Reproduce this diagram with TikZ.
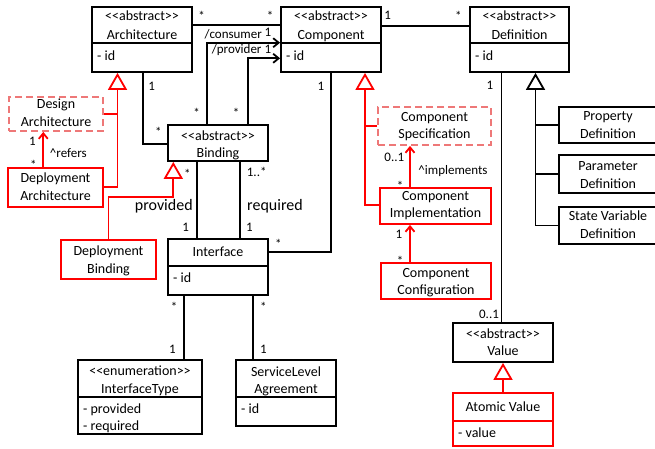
\documentclass[tikz,border=0pt]{standalone}
\usepackage{fontspec}
\setmainfont{Carlito}
\usetikzlibrary{arrows.meta,calc}

\definecolor{umlred}{RGB}{255,0,0}
\definecolor{draftred}{RGB}{238,120,120}

\tikzset{
  cls/.style={draw, line width=1.8pt, inner sep=0pt},
  redcls/.style={cls, draw=umlred},
  draftcls/.style={cls, draw=draftred, dash pattern=on 7pt off 4pt},
  divider/.style={line width=1.8pt},
  txt/.style={font=\fontsize{14}{17.5}\selectfont, inner sep=0pt, anchor=base},
  attr/.style={txt, anchor=base west},
  mult/.style={font=\fontsize{13}{16}\selectfont, inner sep=0pt, anchor=base},
  role/.style={font=\fontsize{16}{19}\selectfont, inner sep=0pt, anchor=base},
  assoc/.style={line width=1.8pt},
  gen/.style={line width=1.8pt, -{Triangle[open,length=17pt,width=19pt]}},
  nav/.style={line width=1.8pt, -{Straight Barb[length=5.5pt,width=9pt]}},
}

% class box from corner (x1,y1) to corner (x2,y2)
\newcommand\umlbox[6]{%
  \node[#2, minimum width={(#5-#3)*1pt}, minimum height={(#6-#4)*1pt}]
    (#1) at ({(#3+#5)/2},{(#4+#6)/2}) {};}
% one line of text on its baseline
\newcommand\tline[4]{\node[txt] (#1) at (#2,#3) {#4};}
\newcommand\aline[4]{\node[attr] (#1) at (#2,#3) {#4};}
\newcommand\stereo[1]{{<}{<}#1{>}{>}}

\begin{document}
\begin{tikzpicture}[x=1pt,y=-1pt]
\fill[white] (0,0) rectangle (655,448);
\useasboundingbox (0,0) rectangle (655,448);

% ---------- classes ----------
\umlbox{arch}{cls}{92}{7}{192}{72}
\umlbox{comp}{cls}{281}{7}{381}{72}
\umlbox{defn}{cls}{470}{7}{569}{72}
\umlbox{desarch}{draftcls}{9}{97}{103}{131}
\umlbox{deparch}{redcls}{8}{168}{103}{207}
\umlbox{bind}{cls}{168}{125}{268}{161}
\umlbox{depbind}{redcls}{61}{240}{156}{279}
\umlbox{iface}{cls}{168}{239}{268}{295}
\umlbox{itype}{cls}{78}{360}{202}{434}
\umlbox{sla}{cls}{236}{360}{336}{426}
\umlbox{cspec}{draftcls}{378}{107}{491}{145}
\umlbox{cimpl}{redcls}{380}{188}{491}{224}
\umlbox{cconf}{redcls}{381}{263}{491}{299}
\umlbox{propdef}{cls}{559}{107}{657}{143}
\umlbox{pardef}{cls}{559}{155}{657}{193}
\umlbox{svdef}{cls}{559}{207}{657}{244}
\umlbox{val}{cls}{453}{323}{553}{362}
\umlbox{aval}{redcls}{453}{393}{553}{446}

% compartments
\draw[divider] (arch.west |- 0,43) -- (arch.east |- 0,43);
\draw[divider] (comp.west |- 0,43) -- (comp.east |- 0,43);
\draw[divider] (defn.west |- 0,43) -- (defn.east |- 0,43);
\draw[divider] (iface.west |- 0,266) -- (iface.east |- 0,266);
\draw[divider] (itype.west |- 0,397) -- (itype.east |- 0,397);
\draw[divider] (sla.west |- 0,397) -- (sla.east |- 0,397);
\draw[divider,umlred] (aval.west |- 0,421) -- (aval.east |- 0,421);

% ---------- texts ----------
\tline{arch1}{142}{20.5}{\stereo{abstract}}
\tline{arch2}{142}{39}{Architecture}
\aline{arch3}{97}{60}{- id}
\tline{comp1}{331}{20.5}{\stereo{abstract}}
\tline{comp2}{331}{39}{Component}
\aline{comp3}{286}{60}{- id}
\tline{defn1}{519.5}{20.5}{\stereo{abstract}}
\tline{defn2}{519.5}{39}{Definition}
\aline{defn3}{475}{60}{- id}
\tline{desarch1}{56}{108.5}{Design}
\tline{desarch2}{56}{126}{Architecture}
\tline{deparch1}{55.5}{182.5}{Deployment}
\tline{deparch2}{55.5}{200.5}{Architecture}
\tline{bind1}{218}{140}{\stereo{abstract}}
\tline{bind2}{218}{157.5}{Binding}
\tline{depbind1}{108.5}{255.5}{Deployment}
\tline{depbind2}{108.5}{273}{Binding}
\tline{iface1}{218}{256.5}{Interface}
\aline{iface2}{173}{282}{- id}
\tline{itype1}{140}{375.5}{\stereo{enumeration}}
\tline{itype2}{140}{393}{InterfaceType}
\aline{itype3}{83}{413}{- provided}
\aline{itype4}{83}{430.5}{- required}
\tline{sla1}{286}{376.5}{ServiceLevel}
\tline{sla2}{286}{393}{Agreement}
\aline{sla3}{241}{413}{- id}
\tline{cspec1}{434.5}{121.5}{Component}
\tline{cspec2}{434.5}{138.5}{Specification}
\tline{cimpl1}{435.5}{200.5}{Component}
\tline{cimpl2}{435.5}{217.5}{Implementation}
\tline{cconf1}{436}{277.5}{Component}
\tline{cconf2}{436}{294.5}{Configuration}
\tline{propdef1}{608}{120.5}{Property}
\tline{propdef2}{608}{138.5}{Definition}
\tline{pardef1}{608}{170.5}{Parameter}
\tline{pardef2}{608}{188}{Definition}
\tline{svdef1}{608}{220}{State Variable}
\tline{svdef2}{608}{238}{Definition}
\tline{val1}{503}{338.5}{\stereo{abstract}}
\tline{val2}{503}{355.5}{Value}
\tline{aval1}{503}{411}{Atomic Value}
\aline{aval2}{458}{437}{- value}

% ---------- associations ----------
\draw[assoc] (arch.east |- 0,25) -- (comp.west |- 0,25);
\draw[assoc] (comp.east |- 0,26) -- (defn.west |- 0,26);
\draw[assoc] (arch.south -| 143.3,0) |- (bind.west |- 0,144);
\draw[nav] (bind.north -| 206.7,0) |- (comp.west |- 0,42.7);
\draw[nav] (bind.north -| 247.7,0) |- (comp.west |- 0,58.3);
\draw[assoc] (bind.south -| 197.3,0) -- (iface.north -| 197.3,0);
\draw[assoc] (bind.south -| 240,0) -- (iface.north -| 240,0);
\draw[assoc] (iface.east |- 0,252.3) -| (comp.south -| 331,0);
\draw[assoc] (iface.south -| 184,0) -- (itype.north -| 184,0);
\draw[assoc] (iface.south -| 253,0) -- (sla.north -| 253,0);
\draw[assoc] (defn.south -| 501.5,0) -- (val.north -| 501.5,0);

% ---------- generalizations ----------
\draw[gen,umlred] (deparch.east |- 0,186.7) -| (arch.south -| 117.5,0);
\draw[assoc,umlred] (desarch.east) -- (desarch.east -| 117.5,0);
\draw[gen,umlred] (depbind.north) |- (173.3,196.7) -- (bind.south -| 173.3,0);
\draw[gen,umlred] (cimpl.west |- 0,205) -| (comp.south -| 365,0);
\draw[assoc,umlred] (cspec.west) -- (cspec.west -| 365,0);
\draw[gen] (svdef.west) -| (defn.south -| 535.5,0);
\draw[assoc] (propdef.west) -- (propdef.west -| 535.5,0);
\draw[assoc] (pardef.west) -- (pardef.west -| 535.5,0);
\draw[gen,umlred] (aval.north) -- (val.south);

% ---------- directed references ----------
\draw[nav,umlred] (deparch.north -| 43.3,0) -- (desarch.south -| 43.3,0);
\draw[nav,umlred] (cimpl.north -| 410,0) -- (cspec.south -| 410,0);
\draw[nav,umlred] (cconf.north -| 410,0) -- (cimpl.south -| 410,0);

% ---------- multiplicities and roles ----------
\node[mult] (m1) at (201.7,20) {*};
\node[mult] (m2) at (270,20) {*};
\node[mult] (m3) at (387.7,19.5) {1};
\node[mult] (m4) at (458.3,20.5) {*};
\node[mult] (m5) at (151.7,90) {1};
\node[mult] (m6) at (158.3,136.5) {*};
\node[mult] (m7) at (321,90) {1};
\node[mult] (m8) at (196.7,117) {*};
\node[mult] (m9) at (236,117) {*};
\node[mult] (r1) at (233.3,38.5) {/consumer};
\node[mult] (m10) at (268,36.5) {1};
\node[mult] (r2) at (236.7,53.5) {/provider};
\node[mult] (m11) at (268,53) {1};
\node[mult] (m12) at (32.3,145) {1};
\node[mult] (r3) at (68.3,157.5) {\textasciicircum refers};
\node[mult] (m13) at (33.3,169) {*};
\node[mult] (m14) at (187.3,178) {*};
\node[role] (r4) at (163.8,210) {provided};
\node[mult] (m15) at (185.7,231.7) {1};
\node[mult] (m16) at (256.7,176.7) {1..*};
\node[role] (r5) at (275,210) {required};
\node[mult] (m17) at (249.3,231.7) {1};
\node[mult] (m18) at (278.3,248.5) {*};
\node[mult] (m19) at (174,311) {*};
\node[mult] (m20) at (263.3,311) {*};
\node[mult] (m21) at (172.3,353.3) {1};
\node[mult] (m22) at (263.3,353.3) {1};
\node[mult] (m23) at (394.3,161) {0..1};
\node[mult] (r6) at (453,174.3) {\textasciicircum implements};
\node[mult] (m24) at (400,190) {*};
\node[mult] (m25) at (399,238.3) {1};
\node[mult] (m26) at (400,265.5) {*};
\node[mult] (m27) at (490,89.5) {1};
\node[mult] (m28) at (489,318.3) {0..1};
\end{tikzpicture}
\end{document}
